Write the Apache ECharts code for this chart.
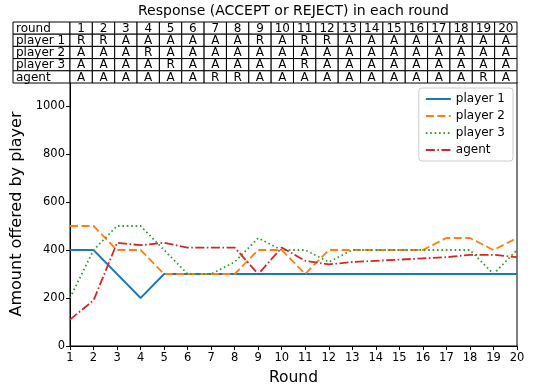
<!DOCTYPE html>
<html>
<head>
<meta charset="utf-8">
<script src="https://cdn.jsdelivr.net/npm/echarts@6/dist/echarts.min.js"></script>
<style>
html,body{margin:0;padding:0;background:#fff;}
#c{width:533px;height:384px;}
</style>
</head>
<body>
<div id="c"></div>
<script>
// ---- data ----
const rounds = [1,2,3,4,5,6,7,8,9,10,11,12,13,14,15,16,17,18,19,20];
const seriesNames = ['player 1','player 2','player 3','agent'];
const player1 = [400,400,300,200,300,300,300,300,300,300,300,300,300,300,300,300,300,300,300,300];
const player2 = [500,500,400,400,300,300,300,300,400,400,300,400,400,400,400,400,450,450,400,450];
const player3 = [200,400,500,500,400,300,300,350,450,400,400,350,400,400,400,400,400,400,300,400];
const agent   = [110,190,430,420,430,410,410,410,300,410,355,340,350,355,360,365,370,380,380,370];
const yTicks = [0,200,400,600,800,1000];
const tableTitle = 'Response (ACCEPT or REJECT) in each round';
const tableRowNames = ['round','player 1','player 2','player 3','agent'];
const resp1 = ['R','R','A','A','A','A','A','A','R','A','R','R','A','A','A','A','A','A','A','A'];
const resp2 = ['A','A','A','R','A','A','A','A','A','A','A','A','A','A','A','A','A','A','A','A'];
const resp3 = ['A','A','A','A','R','A','A','A','A','A','R','A','A','A','A','A','A','A','A','A'];
const respAgent = ['A','A','A','A','A','A','R','R','A','A','A','A','A','A','A','A','A','A','R','A'];

// ---- build ----
const colors = ['#1f77b4','#ff7f0e','#2ca02c','#d62728'];
const dashes = ['solid',[8,3.5],[1.6,2.8],[9,2.5,1.6,2.5]];
const values = [player1,player2,player3,agent];
const FONT = 'DejaVu Sans';

const labelColW = 2.55; // width of first column in column units
const tableRows = [rounds.map(String), resp1, resp2, resp3, respAgent];
const cells = [];
tableRows.forEach((row, r) => {
  cells.push([-labelColW, 0, r, tableRowNames[r], 'left']);
  row.forEach((t, i) => cells.push([i, i + 1, r, t, 'center']));
});

const lineSeries = seriesNames.map((n, k) => ({
  name: n,
  type: 'line',
  xAxisIndex: 0, yAxisIndex: 0,
  data: rounds.map((x, i) => [x, values[k][i]]),
  symbol: 'none',
  lineStyle: { color: colors[k], width: 1.8, type: dashes[k], cap: 'butt' },
  itemStyle: { color: colors[k] },
  animation: false,
  z: 3
}));

const tableSeries = {
  type: 'custom',
  xAxisIndex: 1, yAxisIndex: 1,
  data: cells,
  animation: false,
  silent: true,
  renderItem: function (params, api) {
    const p0 = api.coord([api.value(0), api.value(2)]);
    const p1 = api.coord([api.value(1), api.value(2) + 1]);
    const d = cells[params.dataIndex];
    const left = d[4] === 'left';
    return {
      type: 'group',
      children: [
        { type: 'rect', shape: { x: p0[0], y: p0[1], width: p1[0] - p0[0], height: p1[1] - p0[1] },
          style: { fill: '#fff', stroke: '#000', lineWidth: 1 } },
        { type: 'text', x: left ? p0[0] + 3 : (p0[0] + p1[0]) / 2, y: (p0[1] + p1[1]) / 2 + 0.5,
          style: { text: d[3], fontFamily: FONT, fontSize: 12, fill: '#000',
                   align: left ? 'left' : 'center', verticalAlign: 'middle' } }
      ]
    };
  }
};

const chart = echarts.init(document.getElementById('c'), null, { renderer: 'canvas' });
chart.setOption({
  animation: false,
  backgroundColor: '#fff',
  textStyle: { fontFamily: FONT },
  graphic: [{
    type: 'text', x: 293.5, y: 11,
    style: { text: tableTitle, fontFamily: FONT, fontSize: 14, fill: '#000', align: 'center', verticalAlign: 'middle' }
  }],
  grid: [
    { left: 70, right: 16, top: 82, bottom: 38, show: true, borderColor: '#000', borderWidth: 1,
      backgroundColor: 'transparent', containLabel: false, outerBoundsMode: 'none' },
    { left: 13, right: 16, top: 22, height: 61, containLabel: false, outerBoundsMode: 'none' }
  ],
  xAxis: [
    { type: 'value', gridIndex: 0, min: 1, max: 20, interval: 1,
      name: 'Round', nameLocation: 'middle', nameGap: 24,
      nameTextStyle: { fontFamily: FONT, fontSize: 15.5, color: '#000' },
      axisLine: { show: true, onZero: false, lineStyle: { color: '#000' } },
      axisTick: { show: true, length: 4, lineStyle: { color: '#000' } },
      axisLabel: { fontFamily: FONT, fontSize: 11.5, color: '#000', margin: 6 },
      splitLine: { show: false } },
    { type: 'value', gridIndex: 1, min: -labelColW, max: 20, show: false }
  ],
  yAxis: [
    { type: 'value', gridIndex: 0, min: 0, max: 1100,
      name: 'Amount offered by player', nameLocation: 'middle', nameGap: 38,
      nameTextStyle: { fontFamily: FONT, fontSize: 16, color: '#000' },
      axisLine: { show: true, lineStyle: { color: '#000' } },
      axisTick: { show: true, length: 4, customValues: yTicks, lineStyle: { color: '#000' } },
      axisLabel: { fontFamily: FONT, fontSize: 11.5, color: '#000', margin: 5, customValues: yTicks,
                   formatter: v => String(v) },
      splitLine: { show: false } },
    { type: 'value', gridIndex: 1, min: 0, max: 5, inverse: true, show: false }
  ],
  legend: {
    data: seriesNames,
    orient: 'vertical',
    right: 20, top: 88,
    backgroundColor: '#fff',
    borderColor: '#ccc', borderWidth: 1, borderRadius: 3,
    padding: [5, 8, 5, 6],
    itemWidth: 25, itemHeight: 10, itemGap: 5,
    itemStyle: { opacity: 0 },
    textStyle: { fontFamily: FONT, fontSize: 12, color: '#000' }
  },
  series: lineSeries.concat([tableSeries])
});
</script>
</body>
</html>
